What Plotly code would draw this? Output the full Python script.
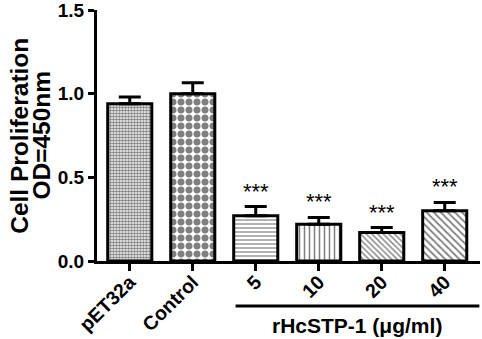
import plotly.graph_objects as go

categories = ["pET32a", "Control", "5", "10", "20", "40"]
values = [0.94, 1.00, 0.27, 0.22, 0.17, 0.30]
errors = [0.04, 0.065, 0.055, 0.04, 0.03, 0.05]
stars = ["", "", "***", "***", "***", "***"]
y_ticks = [0.0, 0.5, 1.0, 1.5]
y_ticklabels = ["0.0", "0.5", "1.0", "1.5"]
group_label = "rHcSTP-1 (μg/ml)"

pattern_shapes = [".", ".", "-", "|", "\\", "\\"]
pattern_sizes = [3, 8, 4, 5, 4, 5]
pattern_solid = [0.6, 0.6, 0.3, 0.3, 0.35, 0.35]

FONT = "Arial, Liberation Sans, sans-serif"

fig = go.Figure()
fig.add_trace(go.Bar(
    x=list(range(len(categories))),
    y=values,
    width=0.7,
    marker=dict(
        color="white",
        line=dict(color="black", width=3),
        pattern=dict(shape=pattern_shapes, size=pattern_sizes,
                     solidity=pattern_solid, fgcolor="black",
                     bgcolor="white", fillmode="overlay"),
    ),
    error_y=dict(type="data", array=errors, arrayminus=[0]*len(errors),
                 symmetric=False, color="black", thickness=3, width=11),
    showlegend=False,
    hoverinfo="skip",
))

annotations = []
for i, (v, e, s) in enumerate(zip(values, errors, stars)):
    if s:
        annotations.append(dict(x=i, y=v + e, text=s, showarrow=False,
                                xanchor="center", yanchor="bottom", yshift=1,
                                font=dict(family=FONT, size=22, color="black")))

annotations.append(dict(x=3.6, y=-0.255, xref="x", yref="paper",
                        text="<b>" + group_label + "</b>", showarrow=False,
                        xanchor="center", yanchor="middle",
                        font=dict(family=FONT, size=21, color="black")))
annotations.append(dict(x=-0.203, y=0.5, xref="paper", yref="paper",
                        text="<b>Cell Proliferation</b>", showarrow=False,
                        textangle=-90, xanchor="center", yanchor="middle",
                        font=dict(family=FONT, size=24.5, color="black")))
annotations.append(dict(x=-0.146, y=0.5, xref="paper", yref="paper",
                        text="<b>OD=450nm</b>", showarrow=False,
                        textangle=-90, xanchor="center", yanchor="middle",
                        font=dict(family=FONT, size=24.5, color="black")))

fig.update_layout(
    width=482, height=339,
    margin=dict(l=97, r=2, t=10, b=78),
    plot_bgcolor="white", paper_bgcolor="white",
    font=dict(family=FONT, color="black"),
    annotations=annotations,
    shapes=[dict(type="line", xref="x", yref="paper",
                 x0=1.68, x1=5.55, y0=-0.179, y1=-0.179,
                 line=dict(color="black", width=3))],
)
fig.update_xaxes(
    range=[-0.52, 5.56],
    tickmode="array",
    tickvals=list(range(len(categories))),
    ticktext=["<b>%s</b>" % c for c in categories],
    tickangle=-45,
    ticks="outside", ticklen=7, tickwidth=3, tickcolor="black",
    showline=True, linecolor="black", linewidth=3,
    showgrid=False, zeroline=False, automargin=False,
    ticklabeloverflow="allow", ticklabelstandoff=-8,
    tickfont=dict(family=FONT, size=19.5, color="black"),
)
fig.update_yaxes(
    range=[0, 1.5],
    tickmode="array",
    tickvals=y_ticks,
    ticktext=["<b>%s</b>" % t for t in y_ticklabels],
    ticks="outside", ticklen=6, tickwidth=3, tickcolor="black",
    showline=True, linecolor="black", linewidth=3,
    showgrid=False, zeroline=False, automargin=False,
    ticklabeloverflow="allow",
    tickfont=dict(family=FONT, size=19, color="black"),
)

fig.write_html("out.html",
               config={"displayModeBar": False, "staticPlot": True},
               post_script="document.body.style.margin='0';document.body.style.overflow='hidden';")
